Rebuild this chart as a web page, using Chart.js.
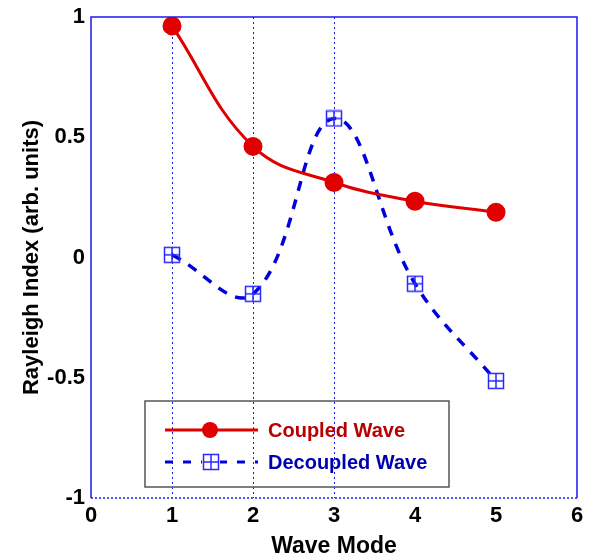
<!DOCTYPE html>
<html>
<head>
<meta charset="utf-8">
<script src="https://cdn.jsdelivr.net/npm/chart.js@4/dist/chart.umd.min.js"></script>
<style>
  html, body { margin: 0; padding: 0; background: #fff; }
  #wrap { width: 592px; height: 560px; }
</style>
</head>
<body>
<div id="wrap"><canvas id="chart1" width="592" height="560"></canvas></div>
<script>
// data
const waveModes = [1, 2, 3, 4, 5];
const coupled = [0.963, 0.462, 0.312, 0.234, 0.188];
const decoupled = [0.011, -0.151, 0.578, -0.109, -0.513];
const xTicks = [0, 1, 2, 3, 4, 5, 6];
const yTicks = [-1, -0.5, 0, 0.5, 1];
const gridModes = [1, 2, 3];

const redLine = '#e00000';
const blueLine = '#0000dd';
const boxBlue = '#2a2aff';
const axisBlue = '#1a1aee';
const font = '"Liberation Sans", Arial, sans-serif';

// square with a cross in it, for the decoupled markers
function boxMarker() {
  const c = document.createElement('canvas');
  c.width = 18; c.height = 18;
  const g = c.getContext('2d');
  g.strokeStyle = boxBlue;
  g.lineWidth = 1.5;
  g.strokeRect(1.5, 1.5, 15, 15);
  g.beginPath();
  g.moveTo(9, 1.5); g.lineTo(9, 16.5);
  g.moveTo(1.5, 9); g.lineTo(16.5, 9);
  g.stroke();
  return c;
}
const marker = boxMarker();

const framePlugin = {
  id: 'frame',
  afterDraw(chart) {
    const a = chart.chartArea;
    const g = chart.ctx;
    g.save();
    g.strokeStyle = axisBlue;
    g.lineWidth = 1.5;
    g.beginPath();
    g.moveTo(a.left, a.bottom); g.lineTo(a.left, a.top);
    g.lineTo(a.right, a.top); g.lineTo(a.right, a.bottom);
    g.stroke();
    g.setLineDash([2, 2]);
    g.beginPath();
    g.moveTo(a.left, a.bottom); g.lineTo(a.right, a.bottom);
    g.stroke();
    g.setLineDash([]);

    // legend box
    const lx = 145, ly = 401, lw = 304, lh = 86;
    g.strokeStyle = '#555';
    g.lineWidth = 1.5;
    g.strokeRect(lx, ly, lw, lh);

    g.font = 'bold 20px ' + font;
    g.textBaseline = 'middle';

    // coupled entry
    g.strokeStyle = redLine;
    g.lineWidth = 3;
    g.beginPath(); g.moveTo(165, 430); g.lineTo(258, 430); g.stroke();
    g.fillStyle = redLine;
    g.beginPath(); g.arc(210, 430, 8, 0, Math.PI * 2); g.fill();
    g.fillStyle = '#b80000';
    g.fillText(chart.data.datasets[0].label, 268, 431);

    // decoupled entry
    g.strokeStyle = blueLine;
    g.lineWidth = 3;
    g.setLineDash([8, 10]);
    g.beginPath(); g.moveTo(165, 462); g.lineTo(258, 462); g.stroke();
    g.setLineDash([]);
    g.fillStyle = '#fff';
    g.fillRect(202, 453, 18, 18);
    g.drawImage(marker, 202, 453);
    g.fillStyle = '#0000b0';
    g.fillText(chart.data.datasets[1].label, 268, 463);
    g.restore();
  }
};

const ctx1 = document.getElementById('chart1').getContext('2d');
const chart1 = new Chart(ctx1, {
  type: 'line',
  data: {
    datasets: [{
      label: 'Coupled Wave',
      data: waveModes.map((m, i) => ({ x: m, y: coupled[i] })),
      borderColor: redLine,
      backgroundColor: redLine,
      borderWidth: 3,
      pointRadius: 8,
      pointHoverRadius: 8,
      tension: 0.4
    }, {
      label: 'Decoupled Wave',
      data: waveModes.map((m, i) => ({ x: m, y: decoupled[i] })),
      borderColor: blueLine,
      backgroundColor: blueLine,
      borderWidth: 3.5,
      borderDash: [10, 9],
      pointStyle: marker,
      pointRadius: 9,
      tension: 0.4
    }]
  },
  options: {
    responsive: false,
    animation: false,
    layout: { padding: { top: 16, right: 15, left: 0, bottom: 0 } },
    scales: {
      x: {
        type: 'linear',
        min: 0,
        max: 6,
        afterBuildTicks: (axis) => { axis.ticks = xTicks.map(v => ({ value: v })); },
        afterFit: (axis) => { axis.height = 62; },
        ticks: {
          color: '#000',
          font: { family: font, size: 22, weight: 'bold' },
          padding: 5,
          maxRotation: 0,
          callback: (v) => String(v)
        },
        grid: {
          color: (c) => gridModes.includes(c.tick && c.tick.value) ? axisBlue : 'rgba(0,0,0,0)',
          lineWidth: 1,
          drawTicks: false
        },
        border: { display: false, dash: [2, 3] },
        title: {
          display: true,
          text: 'Wave Mode',
          color: '#000',
          font: { family: font, size: 23, weight: 'bold' },
          padding: { top: 0, bottom: 0 }
        }
      },
      y: {
        min: -1,
        max: 1,
        afterBuildTicks: (axis) => { axis.ticks = yTicks.map(v => ({ value: v })); },
        afterFit: (axis) => { axis.width = 91; },
        ticks: {
          color: '#000',
          font: { family: font, size: 22, weight: 'bold', lineHeight: 1 },
          padding: 6,
          callback: (v) => String(v)
        },
        grid: { display: false, drawTicks: false },
        border: { display: false },
        title: {
          display: true,
          text: 'Rayleigh Index (arb. units)',
          color: '#000',
          font: { family: font, size: 22, weight: 'bold' },
          padding: { top: 19, bottom: 0 }
        }
      }
    },
    plugins: {
      legend: { display: false },
      tooltip: { enabled: false }
    }
  },
  plugins: [framePlugin]
});
</script>
</body>
</html>
